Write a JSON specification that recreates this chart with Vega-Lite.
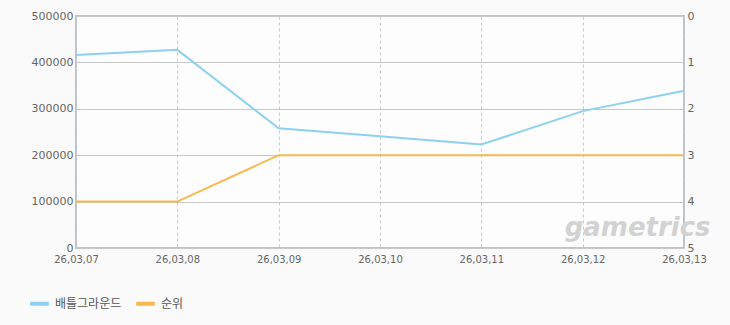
{
  "$schema": "https://vega.github.io/schema/vega-lite/v6.json",
  "width": 608,
  "height": 232,
  "autosize": {"type": "none"},
  "padding": {"left": 76, "top": 16, "right": 46, "bottom": 77},
  "background": "#fafafa",
  "config": {
    "view": {"stroke": "#b3c6d9", "strokeWidth": 2, "fill": "#fdfdfd"},
    "font": "DejaVu Sans",
    "axis": {"labelFont": "DejaVu Sans", "labelColor": "#666666", "labelFontSize": 10, "ticks": false, "domain": false}
  },
  "data": {
    "values": [
      {"date": "26,03,07", "players": 416000, "rank": 4},
      {"date": "26,03,08", "players": 427000, "rank": 4},
      {"date": "26,03,09", "players": 258000, "rank": 3},
      {"date": "26,03,10", "players": 241000, "rank": 3},
      {"date": "26,03,11", "players": 223000, "rank": 3},
      {"date": "26,03,12", "players": 295000, "rank": 3},
      {"date": "26,03,13", "players": 339000, "rank": 3}
    ]
  },
  "layer": [
    {
      "mark": {"type": "line", "strokeWidth": 2},
      "encoding": {
        "x": {
          "field": "date", "type": "ordinal",
          "scale": {"type": "point", "padding": 0},
          "axis": {"title": null, "labelAngle": 0, "labelPadding": 6, "grid": true, "gridDash": [3, 3], "gridColor": "#c8c8c8"}
        },
        "y": {
          "field": "players", "type": "quantitative",
          "scale": {"domain": [0, 500000]},
          "axis": {"title": null, "values": [0, 100000, 200000, 300000, 400000, 500000], "format": "d", "labelPadding": 3, "grid": true, "gridColor": "#c8c8c8", "labelFontSize": 11}
        },
        "color": {
          "datum": "배틀그라운드",
          "scale": {"domain": ["배틀그라운드", "순위"], "range": ["#8ed0f0", "#f7b84f"]},
          "legend": {
            "title": null, "orient": "none", "legendX": -48, "legendY": 276, "direction": "horizontal",
            "symbolType": "stroke", "symbolStrokeWidth": 4, "symbolSize": 350,
            "labelFont": "Noto Sans CJK KR", "labelFontSize": 12, "labelColor": "#555555", "columnPadding": 6
          }
        }
      }
    },
    {
      "mark": {"type": "line", "strokeWidth": 2},
      "encoding": {
        "x": {"field": "date", "type": "ordinal"},
        "y": {
          "field": "rank", "type": "quantitative",
          "scale": {"domain": [0, 5], "reverse": true},
          "axis": {"title": null, "orient": "right", "values": [0, 1, 2, 3, 4, 5], "grid": false, "labelPadding": 3, "labelFontSize": 11}
        },
        "color": {"datum": "순위"}
      }
    },
    {
      "data": {"values": [{"mark": "gametrics"}]},
      "mark": {"type": "text", "align": "left", "baseline": "alphabetic", "dx": -18, "font": "DejaVu Sans", "fontStyle": "italic", "fontWeight": "bold", "fontSize": 26, "color": "#d2d2d2"},
      "encoding": {
        "x": {"datum": "26,03,12", "type": "ordinal"},
        "y": {"datum": 26000, "type": "quantitative", "scale": {"domain": [0, 500000]}, "axis": null},
        "text": {"field": "mark"}
      }
    }
  ],
  "resolve": {"scale": {"y": "independent"}}
}
